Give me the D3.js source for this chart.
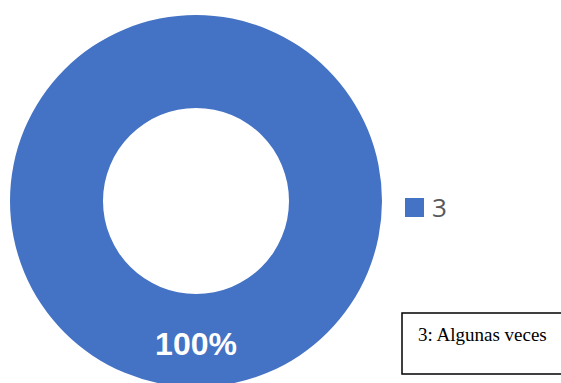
<!DOCTYPE html>
<html>
<head>
<meta charset="utf-8">
<script src="https://cdn.jsdelivr.net/npm/d3@7"></script>
<style>
  body { margin: 0; background: #fff; }
  svg { display: block; }
</style>
</head>
<body>
<div id="chart"></div>
<script>
const categories = ["3"];
const values = [100];
const percentLabels = ["100%"];
const noteText = "3: Algunas veces";

const width = 561, height = 383;
const cx = 196, cy = 201, outerR = 186, innerR = 93;

const svg = d3.select("#chart")
    .append("svg")
    .attr("width", width)
    .attr("height", height);

const color = d3.scaleOrdinal()
    .domain(categories)
    .range(["#4472C4"]);

const pie = d3.pie().sort(null)(values);
const arc = d3.arc().innerRadius(innerR).outerRadius(outerR);

const g = svg.append("g")
    .attr("transform", `translate(${cx},${cy})`);

g.selectAll("path")
    .data(pie)
    .join("path")
    .attr("d", arc)
    .attr("fill", (d, i) => color(categories[i]));

// percentage label near the bottom of the ring
g.selectAll("text.pct")
    .data(pie)
    .join("text")
    .attr("class", "pct")
    .attr("x", 0)
    .attr("y", 154)
    .attr("text-anchor", "middle")
    .attr("font-family", "Liberation Sans, Arial, sans-serif")
    .attr("font-weight", "bold")
    .attr("font-size", 32)
    .attr("fill", "#fff")
    .text((d, i) => percentLabels[i]);

// legend
const legend = svg.append("g")
    .attr("transform", "translate(405,198)");

legend.selectAll("rect")
    .data(categories)
    .join("rect")
    .attr("width", 19)
    .attr("height", 19)
    .attr("fill", d => color(d));

legend.selectAll("text")
    .data(categories)
    .join("text")
    .attr("x", 27)
    .attr("y", 19)
    .attr("font-family", "Open Sans, Liberation Sans, sans-serif")
    .attr("font-size", 26)
    .attr("fill", "#595959")
    .text(d => d);

// note box
svg.append("rect")
    .attr("x", 402)
    .attr("y", 313)
    .attr("width", 170)
    .attr("height", 61)
    .attr("fill", "#fff")
    .attr("stroke", "#000")
    .attr("stroke-width", 1.5);

svg.append("text")
    .attr("x", 418)
    .attr("y", 341)
    .attr("font-family", "Liberation Serif, Times New Roman, serif")
    .attr("font-size", 19)
    .attr("fill", "#000")
    .text(noteText);
</script>
</body>
</html>
